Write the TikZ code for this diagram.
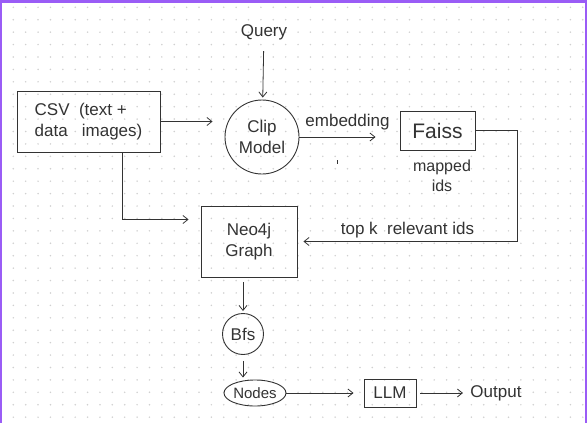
\documentclass[tikz,border=0pt]{standalone}
\usepackage{fontspec}
\setmainfont{Liberation Sans}
\usetikzlibrary{arrows.meta,shapes.geometric,calc}
\definecolor{ink}{HTML}{333333}
\definecolor{gridgray}{HTML}{D0D0D0}
\definecolor{frame}{HTML}{9A5CF6}
\begin{document}
\begin{tikzpicture}[
    x=1pt, y=-1pt,
    >={Straight Barb[length=5pt,width=8pt]},
    every node/.style={text=ink, font=\fontsize{17}{21}\selectfont},
    box/.style={draw=ink, line width=0.9pt, rectangle, align=center, inner sep=2pt},
    ring/.style={draw=ink, line width=0.9pt, circle, align=center, inner sep=1pt},
    link/.style={draw=ink, line width=0.8pt, ->},
  ]

  % canvas
  \useasboundingbox (0,0) rectangle (587,423);
  \fill[white] (0,0) rectangle (587,423);
  \foreach \i in {0,...,46}
    \foreach \j in {0,...,33}
      \fill[gridgray] (13.3+12.38*\i, 7.3+12.42*\j) circle (0.85);
  \fill[frame] (0,0) rectangle (587,3);
  \fill[frame] (0,0) rectangle (2,423);
  \fill[frame] (585,0) rectangle (587,423);

  % nodes
  \node (query) at (264,32) {Query};
  \node[box, minimum width=143, minimum height=61, align=left] (csv) at (88.5,121.5)
    {CSV \ (text +\\data \ \ images)};
  \node[ring, minimum size=74] (clip) at (262,137) {Clip\\Model};
  \node[box, minimum width=75, minimum height=39, font=\fontsize{21}{25}\selectfont] (faiss) at (437.5,130.5) {Faiss};
  \node[align=center, font=\fontsize{16}{20}\selectfont] (mapped) at (442,176) {mapped\\ids};
  \node[box, minimum width=96, minimum height=71] (neo) at (249,241.5) {Neo4j\\Graph};
  \node[ring, minimum size=41, inner sep=0pt] (bfs) at (243,334) {Bfs};
  \node[draw=ink, line width=0.9pt, ellipse, minimum width=62, minimum height=26, inner sep=0pt,
        font=\fontsize{15}{18}\selectfont] (nodes) at (255,393) {Nodes};
  \node[box, minimum width=52, minimum height=28] (llm) at (390,393) {LLM};
  \node (output) at (496,393) {Output};
  \coordinate (turn) at ($(faiss.east)+(42,0)$);

  % connectors
  \draw[link, shorten <=8pt, shorten >=2pt] (query) -- (clip);
  \draw[link, shorten >=12pt] (csv.east) -- (csv.east -| clip.west);
  \draw[link, shorten >=24pt] (clip.east) -- (clip.east -| faiss.west)
    node[pos=0.48, above=3pt] {embedding};
  \draw[link, shorten >=6pt] (faiss.east) -- (turn) |- (neo.east)
    node[pos=0.75, above=0pt] {top k \ relevant ids};
  \draw[link, shorten >=12pt] ([xshift=33.5]csv.south) |- ([yshift=22]neo.west);
  \draw[link, shorten <=5pt, shorten >=2pt] (neo.south -| bfs.north) -- (bfs.north);
  \draw[link, shorten <=6pt, shorten >=2pt] (bfs.south) -- (nodes.north -| bfs.south);
  \draw[link, shorten >=10pt] (nodes.east) -- (llm.west);
  \draw[link, shorten <=4pt, shorten >=4pt] (llm.east) -- (output.west);

  % stray mark
  \draw[ink, line width=0.8pt] (337,160) -- (337,164);

\end{tikzpicture}
\end{document}
